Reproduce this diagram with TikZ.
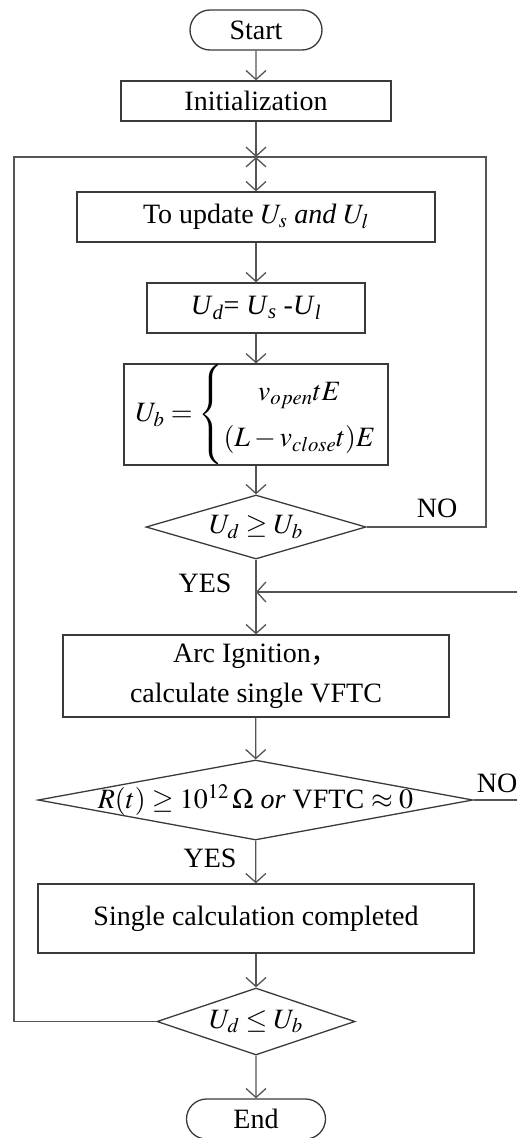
\documentclass[tikz,border=0pt]{standalone}
\usepackage{mathptmx}
\usepackage[no-math]{fontspec}
\setmainfont{Liberation Serif}
\newfontfamily\cjk{Noto Sans CJK SC}
\usetikzlibrary{arrows.meta,shapes.geometric,shapes.misc}
\definecolor{linegray}{HTML}{555555}
\definecolor{boxgray}{HTML}{3A3A3A}
\begin{document}
\begin{tikzpicture}[x=1pt,y=-1pt,
  font=\fontsize{28}{40}\selectfont,
  line/.style={draw=linegray, line width=1.3pt},
  arr/.style={line, -{Straight Barb[length=9pt,width=20pt,line width=1.3pt]}},
  box/.style={rectangle, draw=boxgray, line width=1.3pt, inner sep=0pt, align=center},
  term/.style={rounded rectangle, draw=boxgray, line width=1.3pt, inner sep=0pt},
  dec/.style={diamond, draw=boxgray, line width=1.3pt, inner sep=0pt}]
\useasboundingbox (0,0) rectangle (517,1138);
\node[term, minimum width=132pt, minimum height=40pt] (start) at (256,30) {Start};
\node[box, minimum width=270pt, minimum height=40pt] (init) at (256,101) {Initialization};
\coordinate (J) at (256,157);
\node[box, minimum width=358pt, minimum height=50pt] (upd) at (256,217) {To update $U_s$ \textit{and} $U_l$};
\node[box, minimum width=218pt, minimum height=50pt] (ud) at (256,308) {\textit{U}\textsubscript{\textit{d}}= \textit{U}\textsubscript{\textit{s}} -\textit{U}\textsubscript{\textit{l}}};
\node[box, minimum width=264pt, minimum height=81pt] (ub) at (256,414.5) {\def\arraystretch{1.15}$U_b=\left\{\begin{array}{@{}c@{}} v_{open}tE\\ (L-v_{close}t)E\end{array}\right.$};
\node[dec, minimum width=220pt, minimum height=64pt] (d1) at (256,527) {\makebox[0pt]{$U_d\geq U_b$}};
\coordinate (M) at (256,592);
\node[box, minimum width=386pt, minimum height=82pt] (arc) at (256,676) {Arc Ignition{\cjk ，}\\calculate single VFTC};
\node[dec, minimum width=435pt, minimum height=80pt] (d2) at (255.5,800) {\makebox[0pt]{$R(t)\geq 10^{12}\,\Omega$ \textit{or} VFTC $\approx 0$}};
\node[box, minimum width=436pt, minimum height=69pt] (single) at (256,918.5) {Single calculation completed};
\node[dec, minimum width=198pt, minimum height=67pt] (d3) at (256,1021.5) {\makebox[0pt]{$U_d\leq U_b$}};
\node[term, minimum width=139pt, minimum height=40pt] (end) at (256,1119) {End};
\coordinate (R1) at (486,157);
\coordinate (L1) at (14,157);
\coordinate (Jb) at (256,168);
\coordinate (Rin) at (517,592);
\coordinate (Rout) at (517,800);
\node (no1) at (437,508) {NO};
\node (yes1) at (205,583) {YES};
\node (no2) at (497,783) {NO};
\node (yes2) at (210,858) {YES};
\draw[arr] (start) -- (init);
\draw[arr] (init) -- (J);
\draw[arr] (Jb) -- (J);
\draw[arr] (J) -- (upd);
\draw[arr] (upd) -- (ud);
\draw[arr] (ud) -- (ub);
\draw[arr] (ub) -- (d1);
\draw[line] (d1) -- (M);
\draw[arr] (M) -- (arc);
\draw[arr] (arc) -- (d2);
\draw[arr] (d2) -- (single);
\draw[arr] (single) -- (d3);
\draw[arr] (d3) -- (end);
\draw[line] (d1.east) -| (R1) -- (J);
\draw[line] (d3.west) -| (L1) -- (J);
\draw[arr] (Rin) -- (M);
\draw[line] (d2.east) -- (Rout);
\end{tikzpicture}
\end{document}
